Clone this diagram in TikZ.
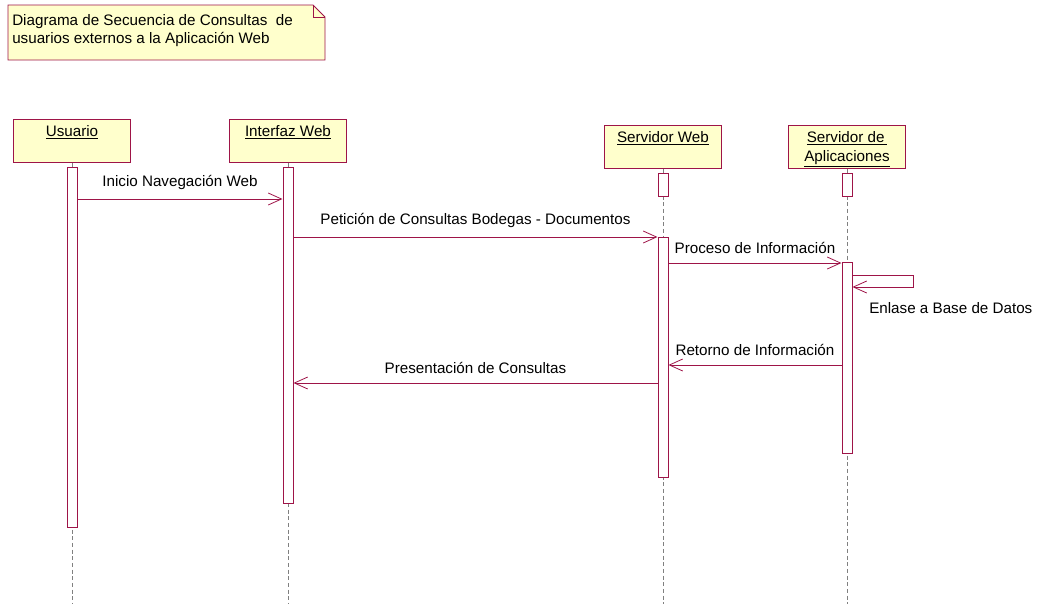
\documentclass[tikz,border=0pt]{standalone}
\usepackage{fontspec}
\setmainfont{Liberation Sans}
\usetikzlibrary{arrows.meta}
\definecolor{umlline}{RGB}{158,20,72}
\definecolor{umlfill}{RGB}{255,255,204}
\tikzset{
  head/.style={draw=umlline, fill=umlfill, line width=0.7pt, minimum width=87.75pt, minimum height=32.25pt, anchor=north west, inner sep=0pt},
  headtxt/.style={anchor=north, align=center, inner sep=0pt, yshift=-4.5pt},
  act/.style={draw=umlline, fill=white, line width=0.7pt, minimum width=7.5pt, anchor=north, inner sep=0pt},
  life/.style={draw=gray, densely dashed, very thin},
  msg/.style={draw=umlline, line width=0.6pt, -{Straight Barb[length=10pt,width=9pt]}},
  msgtxt/.style={midway, above, yshift=3.5pt},
}
\begin{document}
\begin{tikzpicture}[x=0.75pt, y=-0.75pt, font=\fontsize{11.4pt}{13.5pt}\selectfont]
				\useasboundingbox (0,0) rectangle (1038,604);
				\draw[draw=umlline, fill=umlfill, line width=0.7pt] (8,5) -- (313,5) -- (325,17) -- (325,60) -- (8,60) -- cycle;
				\draw[draw=umlline, line width=0.7pt] (313,5) -- (313,17) -- (325,17);
				\node (0) [anchor=north west, align=left, inner sep=0pt] at (12,14) {Diagrama de Secuencia de Consultas\ \ de\\usuarios externos a la Aplicación Web};
				
				\node (1) [head] at (13,119) {};
				\node (2) [head] at (229,119) {};
				\node (3) [head] at (604,125) {};
				\node (4) [head] at (788,125) {};
				\node (1t) [headtxt] at (1.north) {\underline{Usuario}};
				\node (2t) [headtxt] at (2.north) {\underline{Interfaz Web}};
				\node (3t) [headtxt] at (3.north) {\underline{Servidor Web}};
				\node (4t) [headtxt] at (4.north) {\underline{Servidor de\,}\\[1pt]\underline{Aplicaciones}};
				
				\draw[life] (1.south) -- (1.south |- 0,604);
				\draw[life] (2.south) -- (2.south |- 0,604);
				\draw[life] (3.south) -- (3.south |- 0,604);
				\draw[life] (4.south) -- (4.south |- 0,604);
				
				\node (a1) [act, minimum height=270pt] at (1.south |- 0,167) {};
				\node (a2) [act, minimum height=252pt] at (2.south |- 0,167) {};
				\node (s3) [act, minimum height=17.25pt] at (3.south |- 0,173) {};
				\node (a3) [act, minimum height=180pt] at (3.south |- 0,237) {};
				\node (s4) [act, minimum height=17.25pt] at (4.south |- 0,173) {};
				\node (a4) [act, minimum height=143.25pt] at (4.south |- 0,262) {};
				
				\draw[msg] (a1.east |- 0,199) -- node[msgtxt] {Inicio Navegación Web} (a2.west |- 0,199);
				\draw[msg] (a2.east |- 0,237) -- node[msgtxt] {Petición de Consultas Bodegas - Documentos} (a3.west |- 0,237);
				\draw[msg] (a3.east |- 0,263) -- node[msgtxt] {Proceso de Información} (a4.west |- 0,263);
				\draw[msg] (a4.east |- 0,275) -- ++(61,0) -- ++(0,12) -- (a4.east |- 0,287);
				\node (5) [anchor=west, inner sep=0pt] at (869,308) {Enlase a Base de Datos};
				\draw[msg] (a4.west |- 0,365) -- node[msgtxt] {Retorno de Información} (a3.east |- 0,365);
				\draw[msg] (a3.west |- 0,383) -- node[msgtxt] {Presentación de Consultas} (a2.east |- 0,383);
			\end{tikzpicture}
\end{document}
